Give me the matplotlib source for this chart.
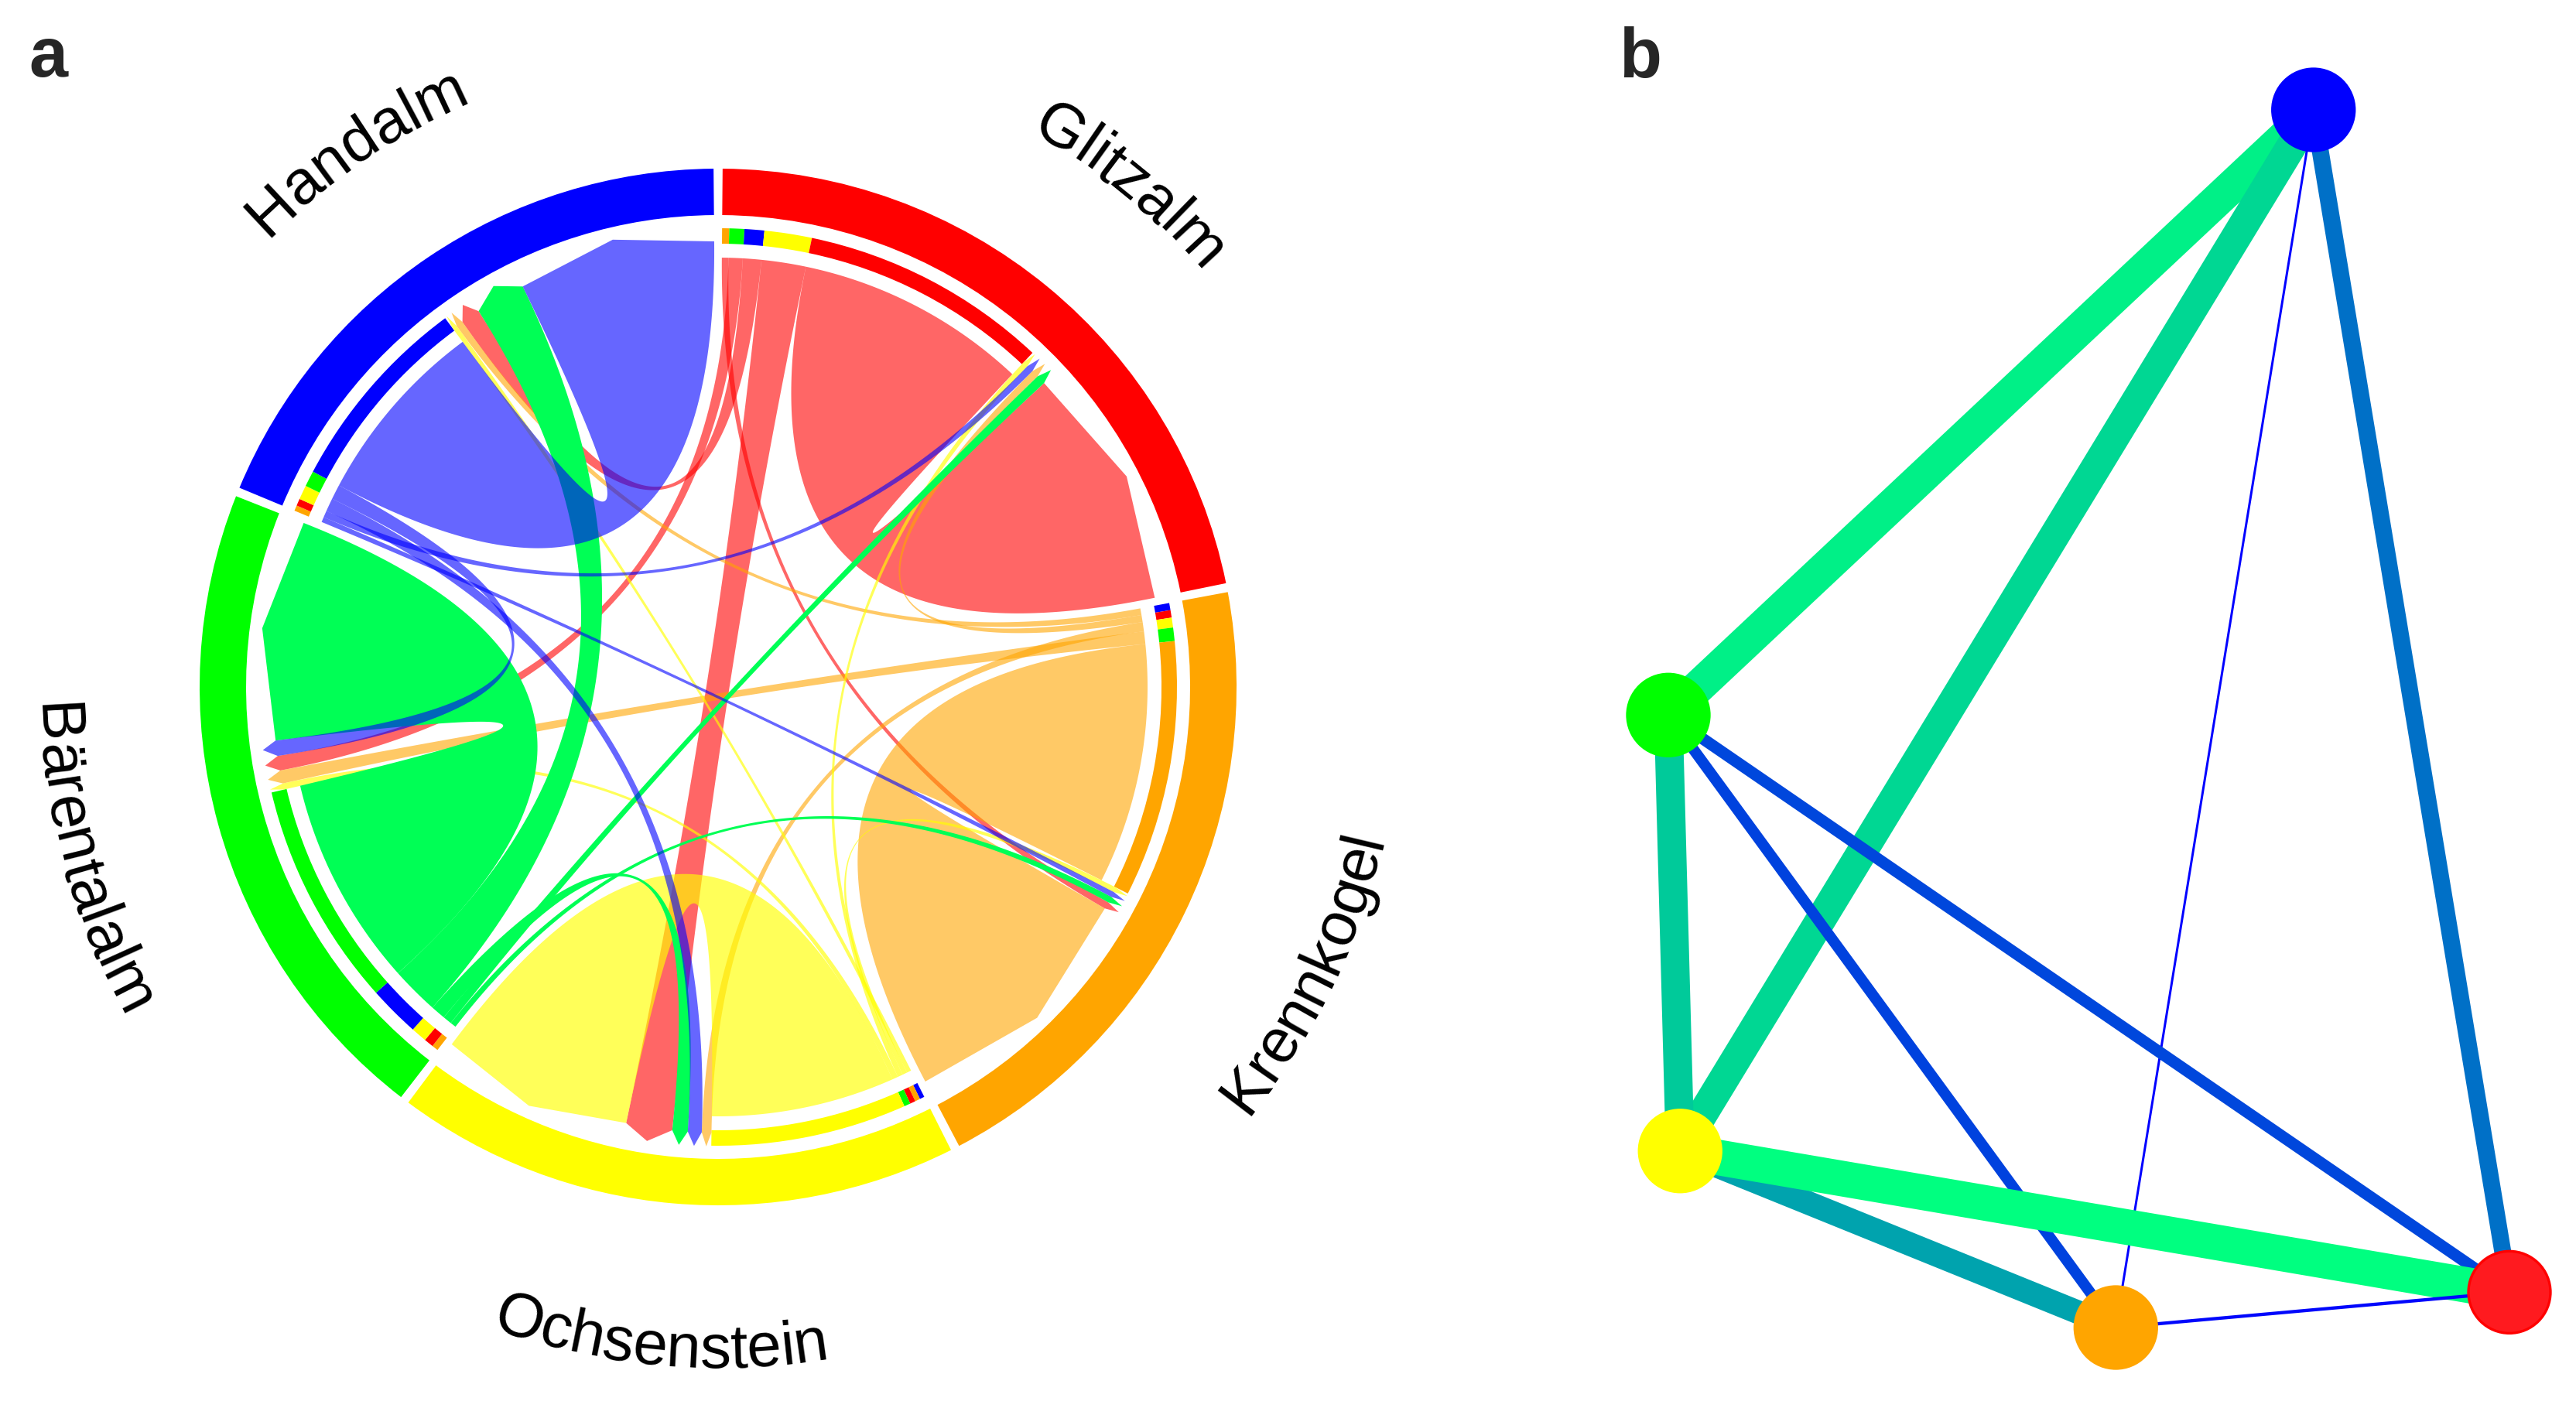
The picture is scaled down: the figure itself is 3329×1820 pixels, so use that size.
import numpy as np
import matplotlib
matplotlib.use('Agg')
import matplotlib.pyplot as plt
from matplotlib.patches import Polygon, Wedge
from matplotlib.font_manager import FontProperties, findfont
from matplotlib.ft2font import FT2Font

plt.rcParams['font.family'] = ['Liberation Sans', 'DejaVu Sans']

# ---- data: panel a (chord diagram), rows = from, columns = to
sites = ['Glitzalm', 'Krennkogel', 'Ochsenstein', 'Bärentalalm', 'Handalm']
site_colors = ['#FF0000', '#FFA500', '#FFFF00', '#00FF00', '#0000FF']
link_colors = [(1, 0, 0, 0.6), (1, 0.647, 0, 0.6), (1, 1, 0, 0.65),
               (0, 1, 0.333, 1.0), (0, 0, 1, 0.6)]

flow_glitzalm = [629, 18, 120, 38, 50]
flow_krennkogel = [19, 650, 25, 34, 18]
flow_ochsenstein = [14, 13, 496, 16, 12]
flow_baerentalalm = [24, 16, 40, 570, 130]
flow_handalm = [18, 14, 36, 40, 510]

# ---- data: panel b (network)
node_names = ['Handalm', 'Bärentalalm', 'Ochsenstein', 'Krennkogel', 'Glitzalm']
node_colors = ['#0000FF', '#00FF00', '#FFFF00', '#FFA500', '#FF1A1F']
node_edge = ['#0000FF', '#00FF00', '#FFFF00', '#FFA500', '#FF0000']
node_x = [0.767, 0.0, 0.014, 0.532, 1.0]
node_y = [1.0, 0.503, 0.145, 0.0, 0.029]
edge_from = [1, 2, 0, 0, 1, 1, 1, 2, 2, 3]
edge_to = [0, 0, 4, 3, 2, 3, 4, 3, 4, 4]
edge_weight = [0.94, 0.84, 0.44, 0.0, 0.79, 0.26, 0.28, 0.64, 1.0, 0.03]

DPI = 200
fig = plt.figure(figsize=(3330 / DPI, 1820 / DPI), dpi=DPI)
px = 72.0 / DPI  # points per pixel

# ================= panel a =================
ax = fig.add_axes([0, 0, 2000 / 3330, 1])
ax.set_xlim(0, 2000)
ax.set_ylim(0, 1820)
ax.axis('off')

cx, cy = 928.0, 932.0
R_ring_out, R_ring_in = 670, 610
R_trk_out, R_trk_in = 593, 573
r_root, r_corner, r_tip = 555, 576, 594

M = np.array([flow_glitzalm, flow_krennkogel, flow_ochsenstein,
              flow_baerentalalm, flow_handalm], float)
n = len(sites)
gap = 1.0
unit = (360 - n * gap) / (2 * M.sum())

out_span, in_span = {}, {}
sec_start, sec_end = [], []
cur = 90 - gap / 2
for i in range(n):
    s0 = cur
    others = sorted([j for j in range(n) if j != i], key=lambda j: M[i, j])
    for j in others + [i]:
        w = M[i, j] * unit
        out_span[(i, j)] = (cur, cur - w)
        cur -= w
    others = sorted([j for j in range(n) if j != i], key=lambda j: M[j, i])
    for j in others + [i]:
        w = M[j, i] * unit
        in_span[(j, i)] = (cur, cur - w)
        cur -= w
    sec_start.append(s0)
    sec_end.append(cur)
    cur -= gap


def pt(a, r):
    t = np.radians(a)
    return np.array([cx + r * np.cos(t), cy + r * np.sin(t)])


C = np.array([cx, cy])


def bez(p0, p2, num=120):
    t = np.linspace(0, 1, num)[:, None]
    return (1 - t) ** 2 * p0 + 2 * (1 - t) * t * C + t ** 2 * p2


# outer ring
for i in range(n):
    ax.add_patch(Wedge((cx, cy), R_ring_out, sec_end[i], sec_start[i],
                       width=R_ring_out - R_ring_in, facecolor=site_colors[i],
                       edgecolor='none', zorder=2))

# inner track (outgoing part, coloured by target)
for (i, j), (a1, a2) in out_span.items():
    ax.add_patch(Wedge((cx, cy), R_trk_out, a2, a1, width=R_trk_out - R_trk_in,
                       facecolor=site_colors[j], edgecolor='none', zorder=2))

# links
for i in range(n):
    for j in range(n):
        s1, s2 = out_span[(i, j)]
        t1, t2 = in_span[(i, j)]
        arc = np.array([pt(a, r_root) for a in np.linspace(s1, s2, 60)])
        b1 = bez(pt(s2, r_root), pt(t1, r_corner))
        tip = pt((t1 + t2) / 2, r_tip)
        b2 = bez(pt(t2, r_corner), pt(s1, r_root))
        poly = np.vstack([arc, b1, [tip], b2])
        ax.add_patch(Polygon(poly, closed=True, facecolor=link_colors[i],
                             edgecolor='none', zorder=3))

# curved sector labels
lab_px = 80
fp = FontProperties(family='Liberation Sans')
ft = FT2Font(findfont(fp))
ft.set_size(lab_px * px, DPI)
for i in range(n):
    mid = (sec_start[i] + sec_end[i]) / 2
    txt = sites[i]
    adv = []
    for ch in txt:
        g = ft.load_char(ord(ch))
        adv.append(g.linearHoriAdvance / 65536.0)
    adv = np.array(adv)
    centers = np.cumsum(adv) - adv / 2 - adv.sum() / 2
    upper = np.sin(np.radians(mid)) > 0
    rb = 822 if upper else 880
    for ch, s in zip(txt, centers):
        if upper:
            a = mid - np.degrees(s / rb)
            rot = a - 90
        else:
            a = mid + np.degrees(s / rb)
            rot = a + 90
        x, y = pt(a, rb)
        ax.text(x, y, ch, fontsize=lab_px * px, rotation=rot,
                rotation_mode='anchor', ha='center', va='baseline',
                color='black', zorder=4)

ax.text(37, 1820 - 99, 'a', fontsize=90 * px, fontweight='bold',
        color='#262626', ha='left', va='baseline')

# ================= panel b =================
bx = fig.add_axes([2000 / 3330, 0, 1330 / 3330, 1])
bx.set_xlim((2000 - 2156) / 1087, (3330 - 2156) / 1087)
bx.set_ylim((0 - 104) / 1574, (1820 - 104) / 1574)
bx.axis('off')

cmap = plt.get_cmap('winter')
for a, b, w in zip(edge_from, edge_to, edge_weight):
    bx.plot([node_x[a], node_x[b]], [node_y[a], node_y[b]],
            color=cmap(w), lw=(3 + 43 * w) * px, solid_capstyle='butt',
            zorder=1)

bx.scatter(node_x, node_y, s=(106 * px) ** 2, c=node_colors,
           edgecolors=node_edge, linewidths=1.2, zorder=3)

fig.text(2092 / 3330, 1 - 100 / 1820, 'b', fontsize=90 * px,
         fontweight='bold', color='#262626', ha='left', va='baseline')

fig.savefig('out.png', dpi=DPI, facecolor='white')
